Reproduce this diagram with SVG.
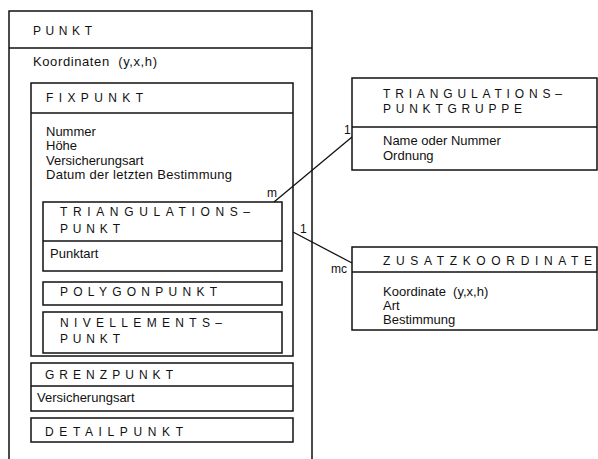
<svg xmlns="http://www.w3.org/2000/svg" width="598" height="459" viewBox="0 0 598 459">
<style>
.box{fill:none;stroke:#111;stroke-width:1.5}
.ln{fill:none;stroke:#111;stroke-width:1.3}
.h{font-family:"Liberation Sans",Arial,sans-serif;font-size:12px;fill:#111}
.t{font-family:"Liberation Sans",Arial,sans-serif;font-size:13px;fill:#111}
.l{font-family:"Liberation Sans",Arial,sans-serif;font-size:12px;fill:#111}
</style>
<rect width="598" height="459" fill="#fff"/>
<g id="punkt">
<path class="box" d="M9,459 V11 H312 V459"/>
<line class="box" x1="9" y1="48" x2="312" y2="48"/>
<text class="h" x="33" y="35" textLength="59" lengthAdjust="spacing">PUNKT</text>
<text class="t" x="33" y="66" textLength="124" lengthAdjust="spacing">Koordinaten&#160; (y,x,h)</text>
</g>
<g id="fixpunkt">
<rect class="box" x="31" y="83" width="262" height="273"/>
<line class="box" x1="31" y1="113" x2="293" y2="113"/>
<text class="h" x="46" y="102" textLength="97" lengthAdjust="spacing">FIXPUNKT</text>
<text class="t" x="46" y="136">Nummer</text>
<text class="t" x="46" y="150">Höhe</text>
<text class="t" x="46" y="165">Versicherungsart</text>
<text class="t" x="46" y="179" textLength="186" lengthAdjust="spacing">Datum der letzten Bestimmung</text>
</g>
<g id="triangulationspunkt">
<rect class="box" x="43" y="202" width="239" height="69"/>
<line class="box" x1="43" y1="241" x2="282" y2="241"/>
<text class="h" x="60" y="216" textLength="190" lengthAdjust="spacing">TRIANGULATIONS–</text>
<text class="h" x="60" y="233" textLength="60" lengthAdjust="spacing">PUNKT</text>
<text class="t" x="50" y="258">Punktart</text>
</g>
<g id="polygonpunkt">
<rect class="box" x="43" y="282" width="239" height="23"/>
<text class="h" x="60" y="296" textLength="157" lengthAdjust="spacing">POLYGONPUNKT</text>
</g>
<g id="nivellementspunkt">
<rect class="box" x="43" y="312" width="239" height="41"/>
<text class="h" x="60" y="327" textLength="162" lengthAdjust="spacing">NIVELLEMENTS–</text>
<text class="h" x="60" y="343" textLength="60" lengthAdjust="spacing">PUNKT</text>
</g>
<g id="grenzpunkt">
<rect class="box" x="31" y="363" width="262" height="48"/>
<line class="box" x1="31" y1="386" x2="293" y2="386"/>
<text class="h" x="45" y="379" textLength="128" lengthAdjust="spacing">GRENZPUNKT</text>
<text class="t" x="37" y="402">Versicherungsart</text>
</g>
<g id="detailpunkt">
<rect class="box" x="31" y="418" width="262" height="24"/>
<text class="h" x="45" y="436" textLength="138" lengthAdjust="spacing">DETAILPUNKT</text>
</g>
<g id="triangulationspunktgruppe">
<rect class="box" x="352" y="78" width="245" height="92"/>
<line class="box" x1="352" y1="127" x2="597" y2="127"/>
<text class="h" x="383" y="98" textLength="179" lengthAdjust="spacing">TRIANGULATIONS–</text>
<text class="h" x="383" y="113" textLength="139" lengthAdjust="spacing">PUNKTGRUPPE</text>
<text class="t" x="383" y="145">Name oder Nummer</text>
<text class="t" x="383" y="160">Ordnung</text>
</g>
<g id="zusatzkoordinate">
<rect class="box" x="352" y="247" width="245" height="83"/>
<line class="box" x1="352" y1="272" x2="597" y2="272"/>
<text class="h" x="383" y="265" textLength="209" lengthAdjust="spacing">ZUSATZKOORDINATE</text>
<text class="t" x="383" y="296">Koordinate&#160; (y,x,h)</text>
<text class="t" x="383" y="310">Art</text>
<text class="t" x="383" y="324">Bestimmung</text>
</g>
<g id="connectors">
<line class="ln" x1="274" y1="202" x2="352" y2="137"/>
<line class="ln" x1="293" y1="232" x2="352" y2="263"/>
<text class="l" x="267" y="197">m</text>
<text class="l" x="344" y="134">1</text>
<text class="l" x="300" y="233">1</text>
<text class="l" x="331" y="273">mc</text>
</g>
</svg>
